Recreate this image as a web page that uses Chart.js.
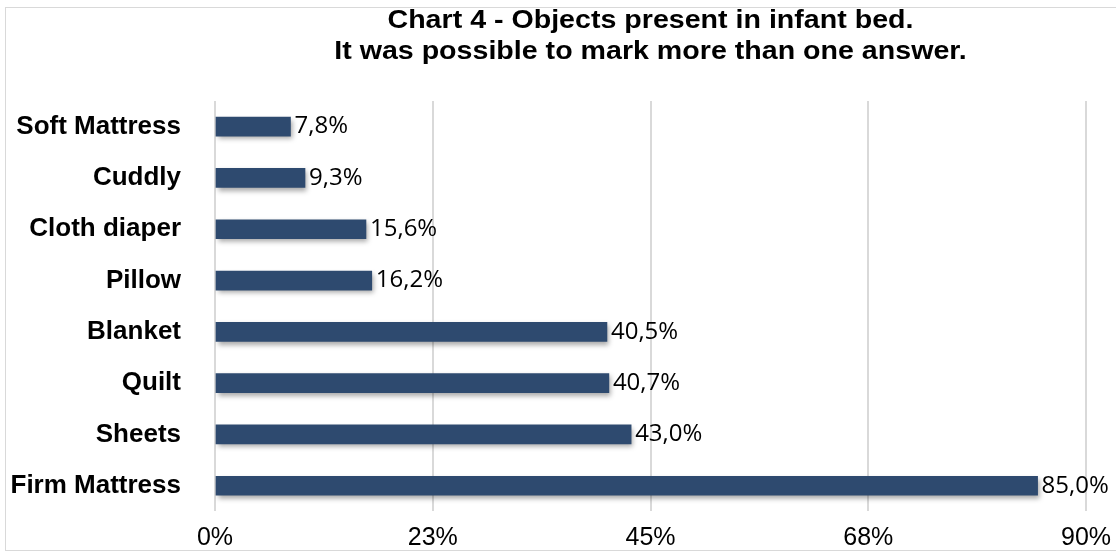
<!DOCTYPE html>
<html>
<head>
<meta charset="utf-8">
<script src="https://cdn.jsdelivr.net/npm/chart.js@4.4.1/dist/chart.umd.min.js"></script>
<style>
  html, body { margin: 0; padding: 0; background: #fff; }
  #wrap { position: relative; width: 1116px; height: 553px; }
  #frame { position: absolute; left: 5px; top: 7px; width: 1115px; height: 542px; border: 1px solid #d9d9d9; pointer-events: none; }
</style>
</head>
<body>
<div id="wrap">
  <canvas id="myChart" width="1116" height="553"></canvas>
  <div id="frame"></div>
</div>
<script>
const categories = ["Soft Mattress", "Cuddly", "Cloth diaper", "Pillow", "Blanket", "Quilt", "Sheets", "Firm Mattress"];
const values = [7.8, 9.3, 15.6, 16.2, 40.5, 40.7, 43.0, 85.0];
const tickValues = [0, 22.5, 45, 67.5, 90];
const titleLines = ["Chart 4 - Objects present in infant bed.", "It was possible to mark more than one answer."];

const barColor = "#2e4a6f";

// title centered above the plot area (slightly widened lettering)
const titlePlugin = {
  id: "plotTitle",
  afterDraw(chart) {
    const { ctx, chartArea } = chart;
    const cx = (chartArea.left + chartArea.right) / 2;
    ctx.save();
    ctx.fillStyle = "#000";
    ctx.font = "bold 26px 'Liberation Sans', Arial, sans-serif";
    ctx.textAlign = "center";
    ctx.textBaseline = "middle";
    ctx.translate(cx, 0);
    ctx.scale(1.1, 1);
    ctx.fillText(titleLines[0], 0, 21);
    ctx.fillText(titleLines[1], 0, 52);
    ctx.restore();
  },
};

// soft drop shadow under the bars
const shadowPlugin = {
  id: "barShadow",
  beforeDatasetsDraw(chart) {
    const ctx = chart.ctx;
    ctx.save();
    ctx.shadowColor = "rgba(0, 0, 0, 0.35)";
    ctx.shadowBlur = 5;
    ctx.shadowOffsetX = 2;
    ctx.shadowOffsetY = 3;
  },
  afterDatasetsDraw(chart) {
    chart.ctx.restore();
  },
};

// value labels at the end of each bar
const valueLabels = {
  id: "valueLabels",
  afterDatasetsDraw(chart) {
    const ctx = chart.ctx;
    const meta = chart.getDatasetMeta(0);
    ctx.save();
    ctx.fillStyle = "#000";
    ctx.font = "24px 'Open Sans', Lato, sans-serif";
    ctx.textAlign = "left";
    ctx.textBaseline = "middle";
    meta.data.forEach((bar, i) => {
      const txt = values[i].toFixed(1).replace(".", ",") + "%";
      ctx.fillText(txt, bar.x + 4, bar.y);
    });
    ctx.restore();
  },
};

const ctx = document.getElementById("myChart");
new Chart(ctx, {
  type: "bar",
  data: {
    labels: categories,
    datasets: [
      {
        data: values,
        backgroundColor: barColor,
        borderWidth: 0,
        barThickness: 19,
      },
    ],
  },
  options: {
    indexAxis: "y",
    responsive: false,
    animation: false,
    layout: {
      padding: { top: 101, right: 30, bottom: -11, left: 0 },
    },
    scales: {
      x: {
        min: 0,
        max: 90,
        afterBuildTicks(scale) {
          scale.ticks = tickValues.map((v) => ({ value: v }));
        },
        afterFit(scale) {
          scale.height = 39;
          // let the last tick label overhang into the right margin
          scale.paddingLeft = 0;
          scale.paddingRight = 0;
        },
        grid: {
          color: "#d9d9d9",
          lineWidth: 2,
          drawTicks: false,
        },
        border: { display: false },
        ticks: {
          padding: 12,
          color: "#000",
          font: { family: "'Liberation Sans', Arial, sans-serif", size: 25 },
          callback: (v) => Math.round(v) + "%",
          maxRotation: 0,
        },
      },
      y: {
        afterFit(scale) {
          scale.width = 215;
        },
        grid: { display: false },
        border: { display: false },
        ticks: {
          padding: 26,
          color: "#000",
          font: { family: "'Liberation Sans', Arial, sans-serif", size: 26, weight: "bold" },
        },
      },
    },
    plugins: {
      legend: { display: false },
      tooltip: { enabled: false },
    },
  },
  plugins: [titlePlugin, shadowPlugin, valueLabels],
});
</script>
</body>
</html>
